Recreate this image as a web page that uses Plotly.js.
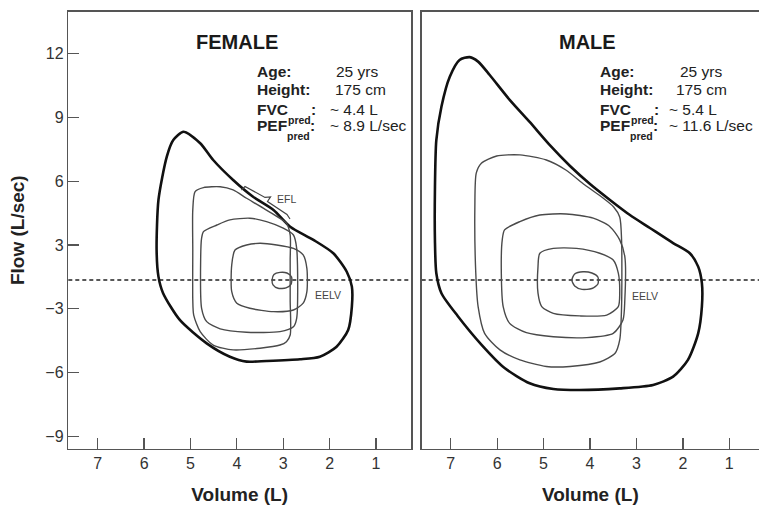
<!DOCTYPE html>
<html>
<head>
<meta charset="utf-8">
<script src="https://cdn.plot.ly/plotly-3.0.1.min.js"></script>
<style>html,body{margin:0;padding:0;background:#fff;}#chart{width:759px;height:511px;}</style>
</head>
<body>
<div id="chart"></div>
<script>
// ---- Data (volume in L, flow in axis units) ----
const volTicks = [7, 6, 5, 4, 3, 2, 1];
const flowTickPos = [12, 9, 6, 3, 0, -3, -6];
const flowTickText = ['12', '9', '6', '3', '\u22123', '\u22126', '\u22129'];
const baselineFlow = 1.35;

// FEMALE
const femaleMaxVol  = [5.15,4.79,4.51,4.08,3.65,3.21,2.85,2.35,1.92,1.63,1.52,1.52,1.60,1.85,2.21,2.64,3.36,3.79,4.15,4.65,5.23,5.59,5.69,5.73,5.69,5.51,5.37];
const femaleMaxFlow = [8.33,7.79,7.00,6.06,5.27,4.65,3.86,3.24,2.61,1.74,1.04,0.10,-1.00,-1.79,-2.26,-2.38,-2.46,-2.49,-2.26,-1.63,-0.53,0.73,1.51,2.76,5.12,7.16,7.94];
const femaleAVol  = [4.90,4.72,4.36,4.08,3.79,3.43,2.93,2.85,2.85,2.85,2.85,2.93,3.07,3.50,4.08,4.51,4.79,4.93,4.95,4.95,4.95];
const femaleAFlow = [5.51,5.70,5.74,5.59,5.20,4.73,4.02,3.47,2.29,0.41,-1.24,-1.55,-1.71,-1.86,-1.94,-1.71,-1.08,-0.30,0.41,2.76,4.65];
const femaleBVol  = [4.72,4.43,4.15,3.72,3.36,3.00,2.78,2.71,2.71,2.78,3.07,3.79,4.36,4.65,4.76,4.78,4.76];
const femaleBFlow = [3.63,3.94,4.18,4.26,4.10,3.79,3.47,2.84,-0.45,-0.85,-1.08,-1.11,-0.95,-0.61,0.02,2.37,3.32];
const femaleCVol  = [4.04,3.79,3.50,3.14,2.78,2.57,2.49,2.49,2.57,2.78,3.21,3.72,4.00,4.11,4.11];
const femaleCFlow = [2.76,3.00,3.08,3.00,2.84,2.53,1.90,0.80,0.26,-0.06,-0.14,0.02,0.26,0.80,2.06];
const femaleRestVol  = [3.24,3.20,3.07,2.92,2.82,2.83,2.94,3.11,3.22];
const femaleRestFlow = [1.35,1.61,1.71,1.68,1.49,1.16,0.98,0.96,1.12];

// MALE
const maleMaxVol  = [6.59,6.41,6.16,5.73,5.30,4.87,4.43,4.00,3.57,3.14,2.71,2.21,1.85,1.67,1.59,1.59,1.67,1.89,2.21,2.64,3.36,4.22,4.79,5.30,5.84,6.33,6.85,7.20,7.31,7.34,7.34,7.31,7.20,7.02,6.81];
const maleMaxFlow = [11.84,11.63,11.00,9.83,8.79,7.71,6.72,5.87,5.12,4.41,3.80,3.09,2.61,1.98,1.20,0.10,-1.16,-2.41,-3.20,-3.59,-3.75,-3.83,-3.78,-3.51,-2.79,-1.71,-0.34,0.73,1.67,3.24,5.59,7.94,9.51,10.92,11.71];
const maleAVol  = [6.34,6.01,5.51,4.94,4.52,4.11,3.72,3.49,3.36,3.32,3.32,3.36,3.46,3.79,4.43,4.94,5.51,5.94,6.27,6.41,6.46,6.48,6.45];
const maleAFlow = [6.85,7.19,7.24,7.00,6.53,5.82,5.21,4.79,4.32,3.24,0.10,-1.47,-2.10,-2.51,-2.72,-2.72,-2.41,-1.94,-1.16,0.10,1.67,4.80,6.38];
const maleBVol  = [5.84,5.51,5.08,4.51,3.93,3.57,3.36,3.25,3.25,3.29,3.50,4.07,4.79,5.37,5.73,5.87,5.91,5.89];
const maleBFlow = [3.71,4.10,4.41,4.46,4.26,3.86,3.24,2.45,0.41,-0.53,-1.16,-1.36,-1.32,-1.13,-0.69,0.10,1.67,3.24];
const maleCVol  = [5.08,4.79,4.29,3.79,3.50,3.39,3.36,3.39,3.64,4.22,4.79,5.04,5.12,5.12];
const maleCFlow = [2.61,2.84,2.84,2.61,2.29,1.67,0.73,0.10,-0.30,-0.34,-0.22,0.10,0.73,1.98];
const maleRestVol  = [4.39,4.33,4.15,3.96,3.83,3.83,3.96,4.17,4.33];
const maleRestFlow = [1.35,1.63,1.74,1.68,1.49,1.16,0.95,0.91,1.07];

// Panel text
const panelTitles = ['FEMALE', 'MALE'];
const infoMain = ['Age:', 'Height:', 'FVC', 'PEF'];
const infoSub = ['', '', 'pred', 'pred'];
const femaleInfo = ['25 yrs', '175 cm', '~ 4.4 L', '~ 8.9 L/sec'];
const maleInfo = ['25 yrs', '175 cm', '~ 5.4 L', '~ 11.6 L/sec'];

// ---- Layout helpers ----
const W = 759, H = 511;
const px = v => v / W;
const py = v => 1 - v / H;
const FONT = 'Liberation Sans, Arial, Helvetica, sans-serif';

function closed(a) { return a.concat([a[0]]); }
function loop(vol, flow, xa, ya, thick) {
  return {
    x: closed(vol), y: closed(flow), xaxis: xa, yaxis: ya,
    mode: 'lines', hoverinfo: 'skip', showlegend: false,
    line: thick ? {color: '#111', width: 2.6, shape: 'spline', smoothing: 0.7}
                : {color: '#4a4a4a', width: 1.4, shape: 'spline', smoothing: 0.7}
  };
}

const traces = [
  loop(femaleMaxVol, femaleMaxFlow, 'x', 'y', true),
  loop(femaleAVol, femaleAFlow, 'x', 'y', false),
  loop(femaleBVol, femaleBFlow, 'x', 'y', false),
  loop(femaleCVol, femaleCFlow, 'x', 'y', false),
  loop(femaleRestVol, femaleRestFlow, 'x', 'y', false),
  loop(maleMaxVol, maleMaxFlow, 'x2', 'y2', true),
  loop(maleAVol, maleAFlow, 'x2', 'y2', false),
  loop(maleBVol, maleBFlow, 'x2', 'y2', false),
  loop(maleCVol, maleCFlow, 'x2', 'y2', false),
  loop(maleRestVol, maleRestFlow, 'x2', 'y2', false)
];

const yRange = [-6.59, 13.98];
const yDomain = [1 - 448.7 / H, 1 - 11.7 / H];

function xAxis(domain, range, anchor) {
  return {
    domain: domain, range: range, anchor: anchor,
    tickmode: 'array', tickvals: volTicks, ticktext: volTicks.map(String),
    ticks: 'inside', ticklen: 11, tickwidth: 1.3, tickcolor: '#555',
    showline: true, mirror: true, linecolor: '#555', linewidth: 1.5,
    showgrid: false, zeroline: false,
    tickfont: {family: FONT, size: 16, color: '#333'},
    title: {text: 'Volume (L)', font: {family: FONT, size: 19, color: '#222', weight: 'bold'}, standoff: 16}
  };
}

const annotations = [];
function addText(x, yBottom, text, size, bold) {
  annotations.push({xref: 'paper', yref: 'paper', x: px(x), y: py(yBottom), text: text, showarrow: false,
    xanchor: 'left', yanchor: 'bottom', font: {family: FONT, size: size, color: '#222', weight: bold ? 'bold' : 'normal'}});
}
// panel titles
annotations.push({xref: 'paper', yref: 'paper', x: px(237), y: py(42), text: panelTitles[0], showarrow: false,
  xanchor: 'center', yanchor: 'middle', font: {family: FONT, size: 20, color: '#1a1a1a', weight: 'bold'}});
annotations.push({xref: 'paper', yref: 'paper', x: px(587), y: py(42), text: panelTitles[1], showarrow: false,
  xanchor: 'center', yanchor: 'middle', font: {family: FONT, size: 20, color: '#1a1a1a', weight: 'bold'}});

// info block: baseline rows, label/value columns
const infoBaselines = [77, 95, 115, 131];
const femaleValX = [334, 333, 328, 328];
const maleValX = [678, 674, 667, 667];
const INFO_FS = 15.5, SUB_FS = 10.5;
const mainWidthEm = {'FVC': 2.0, 'PEF': 1.945};
infoMain.forEach((lab, i) => {
  const bottom = infoBaselines[i] + 5.5;
  [[255, femaleValX[i], femaleInfo[i]], [598, maleValX[i], maleInfo[i]]].forEach(([lx, vx, val]) => {
    if (infoSub[i]) {
      const subX = lx + mainWidthEm[lab] * INFO_FS;
      addText(lx, bottom, lab, INFO_FS, true);
      addText(subX, infoBaselines[i] + 9 + 3.7, infoSub[i], SUB_FS, true);
      addText(subX + 2.167 * SUB_FS, bottom, ':', INFO_FS, true);
    } else {
      addText(lx, bottom, lab, INFO_FS, true);
    }
    addText(vx, bottom, val, INFO_FS, false);
  });
});
// small labels
annotations.push({xref: 'x', yref: 'y', x: 2.94, y: 5.17, text: 'EFL', showarrow: false, xanchor: 'center', yanchor: 'middle',
  font: {family: FONT, size: 10.5, color: '#444'}});
annotations.push({xref: 'x', yref: 'y', x: 2.03, y: 0.65, text: 'EELV', showarrow: false, xanchor: 'center', yanchor: 'middle',
  font: {family: FONT, size: 10.5, color: '#444'}});
annotations.push({xref: 'x2', yref: 'y2', x: 2.82, y: 0.62, text: 'EELV', showarrow: false, xanchor: 'center', yanchor: 'middle',
  font: {family: FONT, size: 10.5, color: '#444'}});

const shapes = [
  {type: 'line', xref: 'x domain', yref: 'y', x0: 0, x1: 1, y0: baselineFlow, y1: baselineFlow, layer: 'below',
   line: {color: '#222', width: 1.3, dash: '4px,3px'}},
  {type: 'line', xref: 'x2 domain', yref: 'y2', x0: 0, x1: 1, y0: baselineFlow, y1: baselineFlow, layer: 'below',
   line: {color: '#222', width: 1.3, dash: '4px,3px'}},
  // EFL bracket
  {type: 'path', xref: 'x', yref: 'y',
   path: 'M 3.900 5.589 L 3.824 5.754 L 3.393 5.236 L 3.274 5.260 L 3.339 5.048 L 2.919 4.436 L 2.854 4.224',
   line: {color: '#444', width: 1.2}}
];

const layout = {
  width: W, height: H,
  margin: {l: 0, r: 0, t: 0, b: 0},
  paper_bgcolor: '#fff', plot_bgcolor: '#fff',
  showlegend: false,
  font: {family: FONT},
  xaxis: xAxis([68.3 / W, 411 / W], [7.634, 0.245], 'y'),
  xaxis2: xAxis([421.7 / W, 1], [7.625, 0.36], 'y2'),
  yaxis: {
    domain: yDomain, range: yRange, anchor: 'x',
    tickmode: 'array', tickvals: flowTickPos, ticktext: flowTickText,
    ticks: 'inside', ticklen: 11, tickwidth: 1.3, tickcolor: '#555',
    showline: true, mirror: true, linecolor: '#555', linewidth: 1.5,
    showgrid: false, zeroline: false,
    tickfont: {family: FONT, size: 16, color: '#333'},
    title: {text: 'Flow (L/sec)', font: {family: FONT, size: 19, color: '#222', weight: 'bold'}, standoff: 15}
  },
  yaxis2: {
    domain: yDomain, range: yRange, anchor: 'x2',
    showticklabels: false, ticks: '',
    showline: true, mirror: true, linecolor: '#555', linewidth: 1.5,
    showgrid: false, zeroline: false
  },
  annotations: annotations,
  shapes: shapes
};

Plotly.newPlot('chart', traces, layout, {staticPlot: true, displayModeBar: false});
</script>
</body>
</html>
